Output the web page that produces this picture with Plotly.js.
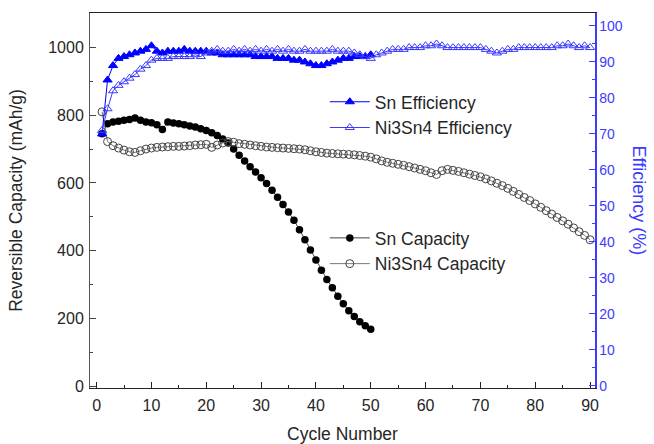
<!DOCTYPE html>
<html>
<head>
<meta charset="utf-8">
<script src="https://cdn.plot.ly/plotly-3.0.1.min.js"></script>
<style>html,body{margin:0;padding:0;background:#fff;}#chart{width:654px;height:444px;}</style>
</head>
<body>
<div id="chart"></div>
<script>
const cyclesSn = [1,2,3,4,5,6,7,8,9,10,11,12,13,14,15,16,17,18,19,20,21,22,23,24,25,26,27,28,29,30,31,32,33,34,35,36,37,38,39,40,41,42,43,44,45,46,47,48,49,50];
const cyclesNi = [1,2,3,4,5,6,7,8,9,10,11,12,13,14,15,16,17,18,19,20,21,22,23,24,25,26,27,28,29,30,31,32,33,34,35,36,37,38,39,40,41,42,43,44,45,46,47,48,49,50,51,52,53,54,55,56,57,58,59,60,61,62,63,64,65,66,67,68,69,70,71,72,73,74,75,76,77,78,79,80,81,82,83,84,85,86,87,88,89,90];

const snCapacity = [745,775,780,782,785,787,792,785,780,778,772,758,780,777,775,772,768,765,760,755,748,740,730,718,700,682,665,648,632,615,598,578,558,536,514,490,462,432,402,372,342,315,290,265,243,222,205,190,178,168];

const niCapacity = [810,722,710,703,697,692,690,695,700,703,705,706,707,708,708,709,710,712,713,714,705,712,718,722,720,716,714,712,710,708,706,705,704,703,702,701,700,698,695,692,690,688,687,686,685,684,683,681,679,676,671,665,661,658,655,652,648,644,640,636,630,625,636,640,637,634,630,626,622,618,612,606,599,592,584,575,566,557,548,538,528,518,508,498,488,478,467,456,445,432];

const snEfficiency = [70,85,89,91,91.5,92,92.5,93,93.5,94.5,93,92.5,93,93,93,93.5,93,93,93,93,92.5,92.5,92,92,92,92,92,92,91.5,91.5,91.5,91.5,91,91,91,90.5,90.5,90,89.5,89,89,89.5,90,90.5,91,91,91.5,91.5,91.5,92];

const niEfficiency = [71,77,82,83.5,84.5,85.5,86.5,88,89,90.5,91,91,91,91.5,91.5,91.5,91.5,92,91.5,92.5,93,93.5,93,93,93.5,93,93.5,93,93.5,93,93.5,93,93.5,93,93.5,93,93,93.5,93,93,93,93,93.5,93,93,93,92.5,92,91.5,91,92,92.5,93,93.5,93.5,93.5,94,94,94,94.5,94.5,95,94.5,94,94,94,94,94,94,94,93.5,93,92.5,93,93.5,93.5,94,94,94,94,94,94,94,94.5,94.5,95,94.5,94,94.5,94];

const xTicks = [0,10,20,30,40,50,60,70,80,90];
const yTicks = [0,200,400,600,800,1000];
const y2Ticks = [0,10,20,30,40,50,60,70,80,90,100];

const BLUE = '#0000ff';
const AXBLUE = '#3c3cff';
const FONT = 'Liberation Sans, Arial, sans-serif';
const TXT = '#262626';

const traces = [
  {x: cyclesSn, y: snEfficiency, name: 'Sn Efficiency', yaxis: 'y2', mode: 'lines+markers',
   line: {color: BLUE, width: 1}, marker: {symbol: 'triangle-up', size: 8, color: BLUE, line: {color: BLUE, width: 1}},
   legend: 'legend'},
  {x: cyclesNi, y: niEfficiency, name: 'Ni3Sn4 Efficiency', yaxis: 'y2', mode: 'lines+markers',
   line: {color: '#3a3aff', width: 1}, marker: {symbol: 'triangle-up-open', size: 8, color: '#3a3aff', line: {width: 1}},
   legend: 'legend'},
  {x: cyclesSn, y: snCapacity, name: 'Sn Capacity', mode: 'lines+markers',
   line: {color: '#444', width: 1}, marker: {symbol: 'circle', size: 7.5, color: '#000'},
   legend: 'legend2'},
  {x: cyclesNi, y: niCapacity, name: 'Ni3Sn4 Capacity', mode: 'lines+markers',
   line: {color: '#777', width: 1}, marker: {symbol: 'circle-open', size: 8, color: '#444', line: {width: 1}},
   legend: 'legend2'}
];

const layout = {
  width: 654, height: 444,
  margin: {l: 90, r: 59, t: 13, b: 56},
  paper_bgcolor: '#fff', plot_bgcolor: '#fff',
  font: {family: FONT, size: 15, color: TXT},
  showlegend: true,
  xaxis: {
    range: [-1.2, 90.9], tickvals: xTicks, ticks: 'inside', ticklen: 6, tickcolor: '#222',
    minor: {dtick: 5, ticks: 'inside', ticklen: 3, tickcolor: '#222'},
    showgrid: false, zeroline: false, showline: true, linecolor: '#222', linewidth: 1, mirror: true,
    tickfont: {size: 16, color: TXT}, ticklabelstandoff: 3,
    title: {text: 'Cycle Number', font: {size: 17.5, color: TXT}, standoff: 18}
  },
  yaxis: {
    range: [-5.9, 1102], tickvals: yTicks, ticks: 'inside', ticklen: 6, tickcolor: '#444',
    minor: {dtick: 100, ticks: 'inside', ticklen: 3, tickcolor: '#444'},
    showgrid: false, zeroline: false, showline: true, linecolor: '#555', linewidth: 1,
    tickfont: {size: 16, color: TXT}, ticklabelstandoff: 2,
    title: {text: 'Reversible Capacity (mAh/g)', font: {size: 17.5, color: TXT}, standoff: 21}
  },
  yaxis2: {
    overlaying: 'y', side: 'right', range: [-0.56, 103.6], tickvals: y2Ticks,
    ticks: 'inside', ticklen: 6, tickcolor: AXBLUE,
    minor: {dtick: 5, ticks: 'inside', ticklen: 3, tickcolor: AXBLUE},
    showgrid: false, zeroline: false, showline: true, linecolor: AXBLUE, linewidth: 1.5,
    tickfont: {size: 14, color: AXBLUE}
  },
  legend: {x: 0.465, y: 0.811, xanchor: 'left', yanchor: 'top', bgcolor: 'rgba(0,0,0,0)',
    font: {size: 17.5, color: TXT}, itemwidth: 40, tracegroupgap: 0},
  legend2: {x: 0.465, y: 0.448, xanchor: 'left', yanchor: 'top', bgcolor: 'rgba(0,0,0,0)',
    font: {size: 17.5, color: TXT}, itemwidth: 40, tracegroupgap: 0},
  annotations: [{
    text: 'Efficiency (%)', textangle: 90, xref: 'paper', yref: 'paper',
    x: 1.089, y: 0.5, xanchor: 'center', yanchor: 'middle', showarrow: false,
    font: {size: 18, color: AXBLUE, family: FONT}
  }]
};

Plotly.newPlot('chart', traces, layout, {displayModeBar: false, staticPlot: true});
</script>
</body>
</html>
